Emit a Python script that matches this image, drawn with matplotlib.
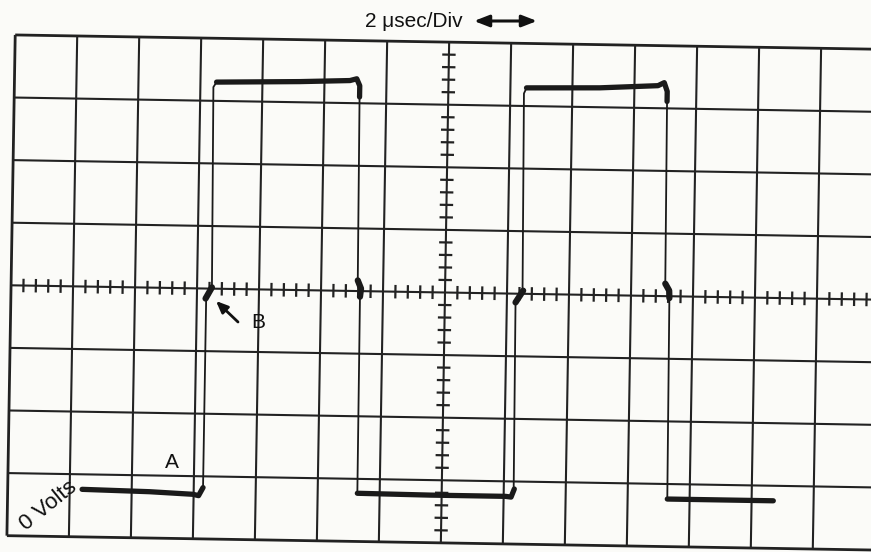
import matplotlib
matplotlib.use("Agg")
import matplotlib.pyplot as plt
from matplotlib.transforms import Affine2D

plt.rcParams['font.family'] = ['Liberation Sans', 'DejaVu Sans']

# ---------------- data (graticule divisions, centre = 0,0) ----------------
x_divs = 14          # horizontal divisions (-7 .. 7)
y_divs = 8           # vertical divisions (-4 .. 4)
minor_per_div = 5    # ticks on centre lines

# thick plateau traces
low1_x = [-5.80, -4.71, -4.01, -3.92, -3.85]
low1_y = [-3.24, -3.26, -3.29, -3.31, -3.18]
high1_x = [-3.74, -2.40, -1.59, -1.48, -1.43, -1.43]
high1_y = [3.30, 3.33, 3.36, 3.39, 3.28, 3.10]
low2_x = [-1.36, -0.19, 1.03, 1.12, 1.17]
low2_y = [-3.23, -3.24, -3.24, -3.25, -3.12]
high2_x = [1.26, 2.44, 3.38, 3.48, 3.53, 3.53]
high2_y = [3.29, 3.31, 3.36, 3.41, 3.27, 3.11]
low3_x = [3.64, 5.35]
low3_y = [-3.24, -3.24]

# thin transition edges
edge_x = [[-3.85, -3.85], [-3.76, -3.79, -3.74], [-1.43, -1.41], [-1.37, -1.36],
          [1.16, 1.14], [1.25, 1.22, 1.26], [3.53, 3.55], [3.62, 3.64]]
edge_y = [[-3.18, -0.16], [0.02, 3.22, 3.30], [3.10, 0.17], [-0.09, -3.23],
          [-3.12, -0.14], [0.05, 3.20, 3.29], [3.11, 0.20], [-0.03, -3.24]]

# thick blobs where the edges cross the centre line
blob_x = [[-3.86, -3.76], [-1.41, -1.355, -1.37], [1.14, 1.26], [3.55, 3.615, 3.62]]
blob_y = [[-0.16, 0.02], [0.17, 0.04, -0.09], [-0.14, 0.05], [0.20, 0.09, -0.03]]

title_text = "2 μsec/Div"
zero_label = "0 Volts"
label_a = "A"
label_b = "B"

# ---------------- figure ----------------
W, H = 871, 552
bg = '#fbfbf8'
fig = plt.figure(figsize=(W / 100, H / 100), dpi=100)
fig.patch.set_facecolor(bg)
ax = fig.add_axes([0, 0, 1, 1])
ax.set_facecolor(bg)
ax.axis('off')

cx, cy = 445, 292.5          # centre of graticule in image pixels (y down)
px_x, px_y = 62.0, 62.6      # pixels per division
ax.set_xlim(-cx / px_x, (W - cx) / px_x)
ax.set_ylim(-(H - cy) / px_y, cy / px_y)

rot = Affine2D().rotate_deg_around(cx, H - cy, -0.95)
tr = ax.transData + rot

ink = '#222222'
hx = x_divs / 2
hy = y_divs / 2

# grid lines
for i in range(-int(hx), int(hx) + 1):
    lw = 2.0 if abs(i) == hx else 1.5
    ax.plot([i, i], [-hy, hy], color=ink, lw=lw, transform=tr, solid_capstyle='butt')
for j in range(-int(hy), int(hy) + 1):
    lw = 2.0 if abs(j) == hy else 1.5
    ax.plot([-hx, hx], [j, j], color=ink, lw=lw, transform=tr, solid_capstyle='butt')

# centre-line minor ticks
step = 1.0 / minor_per_div
for k in range(int(-hx * minor_per_div), int(hx * minor_per_div) + 1):
    if k % minor_per_div == 0:
        continue
    x = k * step
    ax.plot([x, x], [-0.09, 0.09], color=ink, lw=1.6, transform=tr)
for k in range(int(-hy * minor_per_div), int(hy * minor_per_div) + 1):
    if k % minor_per_div == 0:
        continue
    y = k * step
    ax.plot([-0.09, 0.09], [y, y], color=ink, lw=1.6, transform=tr)

# trace
trace = '#1a1a1a'
for xs, ys in [(low1_x, low1_y), (high1_x, high1_y), (low2_x, low2_y),
               (high2_x, high2_y), (low3_x, low3_y)]:
    ax.plot(xs, ys, color=trace, lw=3.8, transform=tr,
            solid_capstyle='round', solid_joinstyle='round')
for xs, ys in zip(edge_x, edge_y):
    ax.plot(xs, ys, color=trace, lw=1.3, transform=tr, solid_joinstyle='round')
for xs, ys in zip(blob_x, blob_y):
    ax.plot(xs, ys, color=trace, lw=4.5, transform=tr,
            solid_capstyle='round', solid_joinstyle='round')

# ---------------- text ----------------
fig.text(463 / W, 1 - 27 / H, title_text, ha='right', va='baseline',
         fontsize=15, color='#111111')
ax.annotate('', xy=(537, H - 21), xytext=(474, H - 21),
            xycoords='figure pixels', textcoords='figure pixels',
            arrowprops=dict(arrowstyle='<|-|>,head_length=0.9,head_width=0.35',
                            color='#111111', lw=2.2, shrinkA=0, shrinkB=0))

fig.text(48 / W, 1 - 506 / H, zero_label, ha='center', va='center',
         rotation=39, fontsize=16, color='#111111')
fig.text(172 / W, 1 - 463 / H, label_a, ha='center', va='center',
         fontsize=15, color='#111111')
fig.text(258 / W, 1 - 323 / H, label_b, ha='center', va='center',
         fontsize=15, color='#111111')
ax.annotate('', xy=(216, H - 301), xytext=(238, H - 322),
            xycoords='figure pixels', textcoords='figure pixels',
            arrowprops=dict(arrowstyle='-|>,head_length=0.7,head_width=0.3',
                            color='#111111', lw=2.0, shrinkA=0, shrinkB=0))

fig.savefig('out.png', dpi=100, facecolor=fig.get_facecolor())
